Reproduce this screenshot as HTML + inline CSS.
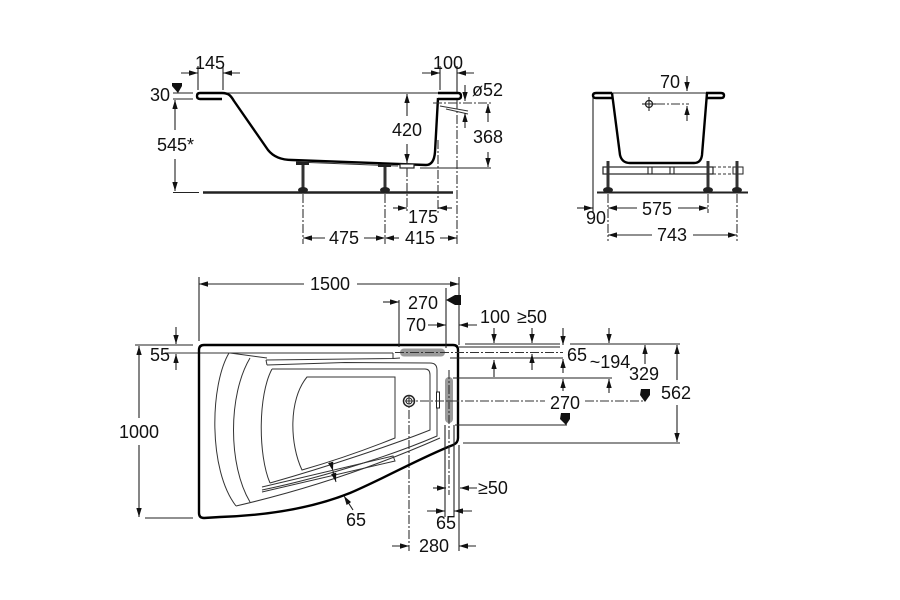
<!DOCTYPE html>
<html><head><meta charset="utf-8"><style>
html,body{margin:0;padding:0;background:#fff;}
svg{display:block;}
text{font-family:"Liberation Sans",Arial,sans-serif;font-size:18px;fill:#111;}
.d{stroke:#222;stroke-width:1.1;fill:none;}
.a{stroke:#222;stroke-width:1.1;fill:none;marker-end:url(#ar);}
.c{stroke:#333;stroke-width:1.1;fill:none;stroke-dasharray:9 2 2 2;}
.o{stroke:#000;stroke-width:2.4;fill:none;stroke-linejoin:round;}
.g{stroke:#333;stroke-width:1;fill:none;}
</style></head><body>
<svg width="900" height="600" viewBox="0 0 900 600" xmlns="http://www.w3.org/2000/svg">
<defs>
<marker id="ar" viewBox="0 0 10 6" refX="10" refY="3" markerWidth="9" markerHeight="5.5" markerUnits="userSpaceOnUse" orient="auto"><path d="M0,0 L10,3 L0,6 z" fill="#111"/></marker>
</defs>
<rect width="900" height="600" fill="#fff"/>

<!-- ============ SIDE VIEW ============ -->
<line class="d" x1="222" y1="93" x2="438" y2="93"/>
<path class="o" d="M222,93 L200,93 Q197,93 197,96 Q197,99 200,99 L222,99"/>
<path class="o" d="M222,93 C229,93 231,96 234,101 L268,150 Q276,160 292,160 L426,165 Q434,165 435,152 L438,98"/>
<path class="o" d="M438,99 L458,99 Q461,99 461,96 Q461,93 458,93 L438,93"/>
<line class="g" x1="296" y1="162" x2="398" y2="166"/>
<!-- legs -->
<rect x="296" y="162" width="13" height="3" fill="#222"/>
<rect x="301.5" y="165" width="3" height="24" fill="#333"/>
<ellipse cx="303" cy="190" rx="5" ry="3" fill="#222"/>
<rect x="378" y="164" width="13" height="3" fill="#222"/>
<rect x="383.5" y="167" width="3" height="22" fill="#333"/>
<ellipse cx="385" cy="190" rx="5" ry="3" fill="#222"/>
<rect x="400" y="164" width="14" height="4" fill="#fff" stroke="#222" stroke-width="1.2"/>
<!-- floor -->
<line x1="203" y1="192.5" x2="453" y2="192.5" stroke="#222" stroke-width="2.4"/>
<line class="d" x1="173" y1="192.5" x2="199" y2="192.5"/>
<!-- 30 / 545 -->
<line class="d" x1="173" y1="93" x2="193" y2="93"/>
<line class="d" x1="173" y1="99" x2="193" y2="99"/>
<polygon points="172,83 182,83 182,86 178,93 172,86" fill="#111"/>
<text x="150" y="101">30</text>
<line class="a" x1="175" y1="130" x2="175" y2="100"/>
<line class="a" x1="175" y1="159" x2="175" y2="191"/>
<text x="157" y="151">545*</text>
<!-- 145 -->
<line class="d" x1="198" y1="66" x2="198" y2="90"/>
<line class="d" x1="223" y1="66" x2="223" y2="90"/>
<line class="a" x1="181" y1="73" x2="198" y2="73"/>
<line class="a" x1="240" y1="73" x2="223" y2="73"/>
<text x="210" y="69" text-anchor="middle">145</text>
<!-- 100 -->
<line class="d" x1="440" y1="66" x2="440" y2="90"/>
<line class="d" x1="457" y1="66" x2="457" y2="92"/>
<line class="a" x1="422" y1="73" x2="440" y2="73"/>
<line class="a" x1="474" y1="73" x2="457" y2="73"/>
<text x="448" y="69" text-anchor="middle">100</text>
<!-- ø52 -->
<text x="472" y="96">ø52</text>
<line class="a" x1="465" y1="85" x2="465" y2="101"/>
<line class="c" x1="433" y1="103" x2="492" y2="103"/>
<line class="g" x1="440" y1="106" x2="468" y2="111"/>
<line class="g" x1="446" y1="109" x2="468" y2="114"/>
<line class="a" x1="465" y1="128" x2="465" y2="113"/>
<!-- 368 -->
<line class="a" x1="488" y1="122" x2="488" y2="104"/>
<line class="a" x1="488" y1="152" x2="488" y2="167"/>
<text x="488" y="143" text-anchor="middle">368</text>
<line class="d" x1="420" y1="168" x2="491" y2="168"/>
<!-- 420 -->
<line class="a" x1="407" y1="116" x2="407" y2="94"/>
<line class="a" x1="407" y1="144" x2="407" y2="163"/>
<text x="407" y="136" text-anchor="middle">420</text>
<!-- 175 -->
<line class="c" x1="407" y1="168" x2="407" y2="213"/>
<line class="c" x1="438" y1="140" x2="438" y2="213"/>
<line class="a" x1="393" y1="208" x2="407" y2="208"/>
<line class="a" x1="452" y1="208" x2="438" y2="208"/>
<text x="423" y="223" text-anchor="middle">175</text>
<!-- 475 / 415 -->
<line class="c" x1="303" y1="194" x2="303" y2="244"/>
<line class="c" x1="385" y1="194" x2="385" y2="244"/>
<line class="c" x1="457" y1="100" x2="457" y2="244"/>
<line class="a" x1="325" y1="238" x2="303" y2="238"/>
<line class="a" x1="364" y1="238" x2="385" y2="238"/>
<line class="a" x1="399" y1="238" x2="385" y2="238"/>
<line class="a" x1="440" y1="238" x2="457" y2="238"/>
<text x="344" y="244" text-anchor="middle">475</text>
<text x="420" y="244" text-anchor="middle">415</text>

<!-- ============ END VIEW ============ -->
<line class="d" x1="612" y1="93" x2="706" y2="93"/>
<path class="o" d="M612,93 L596,93 Q593,93 593,95.5 Q593,98 596,98 L612,98"/>
<path class="o" d="M706,98 L721,98 Q724,98 724,95.5 Q724,93 721,93 L706,93"/>
<path class="o" d="M612,93 L620,155 Q622,163 630,163 L694,163 Q701,163 702,155 L707,93"/>
<rect x="603" y="167" width="110" height="7" fill="none" stroke="#222" stroke-width="1.2"/>
<line class="d" x1="648" y1="167" x2="648" y2="174"/><line class="d" x1="652" y1="167" x2="652" y2="174"/>
<line class="d" x1="670" y1="167" x2="670" y2="174"/><line class="d" x1="674" y1="167" x2="674" y2="174"/>
<line x1="713" y1="167" x2="733" y2="167" stroke="#333" stroke-width="1" stroke-dasharray="3 2"/>
<line x1="713" y1="174" x2="733" y2="174" stroke="#333" stroke-width="1" stroke-dasharray="3 2"/>
<rect x="733" y="167" width="10" height="7" fill="none" stroke="#222" stroke-width="1"/>
<rect x="606.5" y="161" width="3" height="29" fill="#333"/><ellipse cx="608" cy="190" rx="5" ry="3" fill="#222"/>
<rect x="706.5" y="161" width="3" height="29" fill="#333"/><ellipse cx="708" cy="190" rx="5" ry="3" fill="#222"/>
<rect x="735.5" y="161" width="3" height="29" fill="#333"/><ellipse cx="737" cy="190" rx="5" ry="3" fill="#222"/>
<line x1="597" y1="192.5" x2="748" y2="192.5" stroke="#222" stroke-width="2"/>
<line class="d" x1="593" y1="98" x2="593" y2="212"/>
<circle cx="649" cy="104" r="3.5" fill="none" stroke="#222" stroke-width="1.3"/>
<line class="d" x1="642" y1="104" x2="656" y2="104"/><line class="d" x1="649" y1="97" x2="649" y2="111"/>
<line class="c" x1="656" y1="104" x2="689" y2="104"/>
<text x="670" y="88" text-anchor="middle">70</text>
<line class="a" x1="687" y1="76" x2="687" y2="91"/>
<line class="a" x1="687" y1="121" x2="687" y2="106"/>
<line class="a" x1="577" y1="208" x2="593" y2="208"/>
<text x="596" y="224" text-anchor="middle">90</text>
<line class="c" x1="608" y1="194" x2="608" y2="241"/>
<line class="c" x1="708" y1="194" x2="708" y2="213"/>
<line class="c" x1="737" y1="194" x2="737" y2="241"/>
<line class="a" x1="637" y1="208" x2="608" y2="208"/>
<line class="a" x1="678" y1="208" x2="708" y2="208"/>
<text x="657" y="215" text-anchor="middle">575</text>
<line class="a" x1="652" y1="235" x2="608" y2="235"/>
<line class="a" x1="693" y1="235" x2="737" y2="235"/>
<text x="672" y="241" text-anchor="middle">743</text>

<!-- ============ PLAN VIEW ============ -->
<line class="g" x1="165" y1="353" x2="393" y2="353"/>
<line class="g" x1="393" y1="353" x2="393" y2="359"/>
<line class="g" x1="230" y1="353" x2="267" y2="358"/>
<path class="g" d="M266,360 L393,358.5 L400,358"/>
<path class="g" d="M266,360 L267,365"/>
<path class="g" d="M229,353 C210,385 208,470 236,506"/>
<path class="g" d="M250,358 C228,395 228,465 250,502"/>
<path class="g" d="M236,506 Q340,482 440,438"/>
<path class="g" d="M267,365 L345,362.5 L430,363 Q437,363 437,370 L437,436 C400,452 330,476 262,490"/>
<path class="g" d="M272,369 L425,369 Q430,369 430,375 L430,430 C395,444 330,466 270,483"/>
<path class="g" d="M272,369 C258,395 258,455 270,483"/>
<path class="g" d="M307,377 L395,377 L395,438 C360,452 330,462 302,470 C290,445 288,400 307,377 Z"/>
<path class="g" d="M262,487 L393,456 L395,461 L262,492"/>
<rect x="400" y="348.5" width="45" height="8" rx="4" fill="#9a9a9a"/>
<rect x="445" y="377" width="8" height="46" rx="4" fill="#9a9a9a"/>
<rect x="436.5" y="392" width="3" height="16" fill="#fff" stroke="#222" stroke-width="1"/>
<circle cx="409" cy="401" r="5.5" fill="#fff" stroke="#222" stroke-width="1.5"/>
<circle cx="409" cy="401" r="3" fill="none" stroke="#222" stroke-width="1"/>
<path class="o" stroke-width="2.6" d="M204,345 L453,345 Q458,345 458,350 L458,438 Q458,443 453,445 C420,458 385,478 350,493 C320,505 280,515 220,517 L204,518 Q199,518 199,513 L199,350 Q199,345 204,345 Z"/>
<line class="c" x1="395" y1="352.5" x2="563" y2="352.5"/>
<line class="c" x1="449" y1="370" x2="449" y2="495"/>
<line class="c" x1="409" y1="395" x2="409" y2="551"/>
<line class="c" x1="405" y1="401" x2="545" y2="401"/>
<line class="c" x1="585" y1="401" x2="643" y2="401"/>
<!-- 1500 -->
<line class="d" x1="199" y1="277" x2="199" y2="341"/>
<line class="d" x1="459" y1="277" x2="459" y2="345"/>
<line class="a" x1="304" y1="284" x2="199" y2="284"/>
<line class="a" x1="357" y1="284" x2="459" y2="284"/>
<text x="330" y="290" text-anchor="middle">1500</text>
<!-- 1000 -->
<line class="d" x1="135" y1="345" x2="193" y2="345"/>
<line class="d" x1="145" y1="518" x2="193" y2="518"/>
<line class="a" x1="139" y1="418" x2="139" y2="346"/>
<line class="a" x1="139" y1="445" x2="139" y2="517"/>
<text x="139" y="438" text-anchor="middle">1000</text>
<!-- 55 -->
<line class="a" x1="176" y1="327" x2="176" y2="344"/>
<line class="a" x1="176" y1="370" x2="176" y2="354"/>
<text x="160" y="361" text-anchor="middle">55</text>
<!-- 270 / 70 top -->
<line class="d" x1="399" y1="300" x2="399" y2="347"/>
<line class="d" x1="446" y1="288" x2="446" y2="348"/>
<line class="a" x1="383" y1="302" x2="399" y2="302"/>
<text x="423" y="309" text-anchor="middle">270</text>
<polygon points="446,300 455,295 461,295 461,305 455,305" fill="#111"/>
<text x="416" y="331" text-anchor="middle">70</text>
<line class="a" x1="428" y1="325" x2="446" y2="325"/>
<line class="a" x1="477" y1="325" x2="459" y2="325"/>
<!-- right side horizontals -->
<line class="d" x1="465" y1="344" x2="560" y2="344"/>
<line class="d" x1="570" y1="344" x2="680" y2="344"/>
<line class="d" x1="459" y1="347" x2="560" y2="347"/>
<line class="d" x1="450" y1="358" x2="563" y2="358"/>
<line class="d" x1="453" y1="378" x2="612" y2="378"/>
<line class="d" x1="455" y1="425" x2="567" y2="425"/>
<line class="d" x1="463" y1="443" x2="680" y2="443"/>
<text x="495" y="323" text-anchor="middle">100</text>
<text x="532" y="323" text-anchor="middle">≥50</text>
<line class="a" x1="494" y1="328" x2="494" y2="343"/>
<line class="a" x1="494" y1="377" x2="494" y2="360"/>
<line class="a" x1="532" y1="328" x2="532" y2="343"/>
<line class="a" x1="532" y1="370" x2="532" y2="354"/>
<line class="a" x1="563" y1="328" x2="563" y2="345"/>
<line class="a" x1="563" y1="373" x2="563" y2="359"/>
<line class="a" x1="563" y1="391" x2="563" y2="379"/>
<line class="a" x1="609" y1="328" x2="609" y2="343"/>
<line class="a" x1="609" y1="393" x2="609" y2="379"/>
<text x="577" y="361" text-anchor="middle">65</text>
<text x="610" y="368" text-anchor="middle">~194</text>
<line class="a" x1="645" y1="364" x2="645" y2="345"/>
<polygon points="641,389 650,389 650,395 645,402 640,395" fill="#111"/>
<text x="644" y="380" text-anchor="middle">329</text>
<line class="a" x1="677" y1="380" x2="677" y2="345"/>
<line class="a" x1="677" y1="405" x2="677" y2="442"/>
<text x="676" y="399" text-anchor="middle">562</text>
<text x="565" y="409" text-anchor="middle">270</text>
<polygon points="561,413 570,413 570,419 566,425 560,419" fill="#111"/>
<!-- bottom dims -->
<line class="d" x1="445" y1="425" x2="445" y2="517"/>
<line class="d" x1="454" y1="425" x2="454" y2="517"/>
<line class="d" x1="459" y1="445" x2="459" y2="551"/>
<line class="a" x1="433" y1="488" x2="446" y2="488"/>
<line class="a" x1="477" y1="488" x2="460" y2="488"/>
<text x="478" y="494">≥50</text>
<line class="a" x1="427" y1="511" x2="445" y2="511"/>
<line class="a" x1="472" y1="511" x2="454" y2="511"/>
<text x="446" y="529" text-anchor="middle">65</text>
<line class="a" x1="392" y1="546" x2="409" y2="546"/>
<line class="a" x1="476" y1="546" x2="459" y2="546"/>
<text x="434" y="552" text-anchor="middle">280</text>
<line class="a" x1="353" y1="510" x2="344" y2="496"/>
<text x="356" y="526" text-anchor="middle">65</text>
<line x1="333" y1="471" x2="336" y2="482" stroke="#222" stroke-width="1" marker-end="url(#ar)" marker-start="url(#ar)"/>
</svg>
</body></html>
